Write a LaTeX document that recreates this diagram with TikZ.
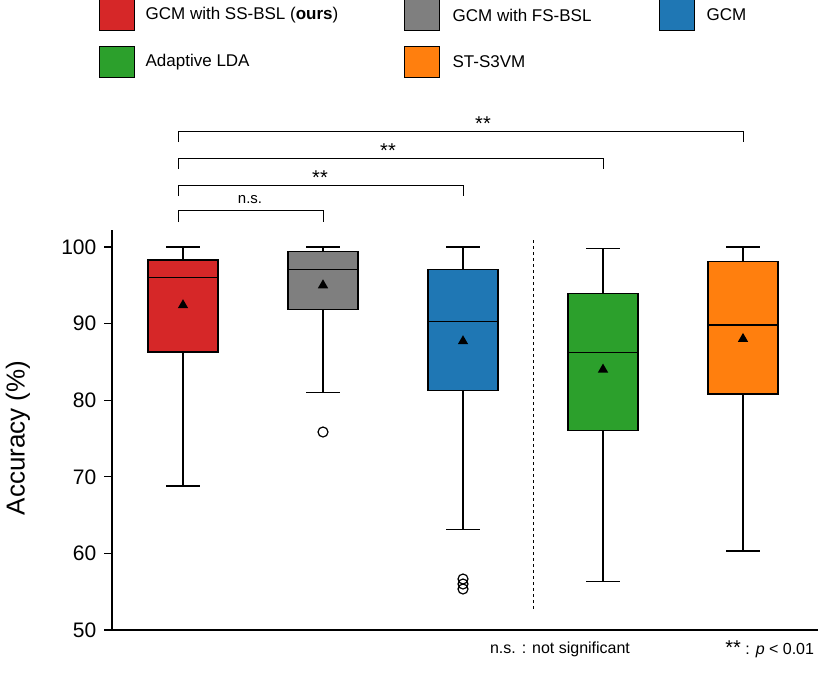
\documentclass[tikz,border=0pt]{standalone}
\usepackage{fontspec}
\setmainfont{Liberation Sans}
\usetikzlibrary{shapes.geometric}
\definecolor{cred}{HTML}{D62728}
\definecolor{cgray}{HTML}{7F7F7F}
\definecolor{cblue}{HTML}{1F77B4}
\definecolor{cgreen}{HTML}{2CA02C}
\definecolor{corange}{HTML}{FF7F0E}
\begin{document}
\begin{tikzpicture}[x=1pt,y=-1pt,line width=1.3pt,
  leg/.style={draw=black,line width=0.8pt,minimum width=35pt,minimum height=31pt,inner sep=0pt},
  legtxt/.style={anchor=west,font=\fontsize{17}{20}\selectfont,inner sep=0pt},
  tick/.style={anchor=east,font=\fontsize{21}{24}\selectfont,inner sep=0pt},
  mean/.style={fill=black,draw=none,isosceles triangle,shape border rotate=90,isosceles triangle apex angle=60,minimum size=9pt,inner sep=0pt},
  outl/.style={circle,draw=black,line width=1.2pt,minimum size=10pt,inner sep=0pt},
  brk/.style={line width=1pt}]
\useasboundingbox (0,0) rectangle (830,686);
% legend
\node[leg,fill=cred] (l1) at (117,15) {};
\node[legtxt] (t1) at (145,15) {GCM with SS-BSL (\textbf{ours})};
\node[leg,fill=cgray] (l2) at (422,15) {};
\node[legtxt] (t2) at (452,15) {GCM with FS-BSL};
\node[leg,fill=cblue] (l3) at (677,15) {};
\node[legtxt] (t3) at (706,15) {GCM};
\node[leg,fill=cgreen] (l4) at (117,62) {};
\node[legtxt] (t4) at (145,62) {Adaptive LDA};
\node[leg,fill=corange] (l5) at (422,62) {};
\node[legtxt] (t5) at (452,62) {ST-S3VM};
% axes
\draw (112,230) -- (112,630) -- (818,630);
\foreach \v in {50,60,...,100}{
  \pgfmathsetmacro{\yy}{630-(\v-50)*7.66}
  \draw (104,\yy) -- (112,\yy);
  \node[tick] at (97,\yy) {\v};
}
\node[rotate=90,font=\fontsize{26}{30}\selectfont] (yl) at (18,438) {Accuracy (\%)};
\newcommand{\bx}[8]{%
  \pgfmathsetmacro{\ya}{630-(#3-50)*7.66}%
  \pgfmathsetmacro{\yb}{630-(#4-50)*7.66}%
  \pgfmathsetmacro{\ym}{630-(#5-50)*7.66}%
  \pgfmathsetmacro{\yl}{630-(#6-50)*7.66}%
  \pgfmathsetmacro{\yh}{630-(#7-50)*7.66}%
  \pgfmathsetmacro{\ymn}{630-(#8-50)*7.66}%
  \draw (#1,\ya) -- (#1,\yl); \draw (#1-17,\yl) -- (#1+17,\yl);
  \draw (#1,\yb) -- (#1,\yh); \draw (#1-17,\yh) -- (#1+17,\yh);
  \draw[fill=#2] (#1-35,\ya) rectangle (#1+35,\yb);
  \draw (#1-35,\ym) -- (#1+35,\ym);
  \node[mean] at (#1,\ymn) {};
}
\bx{183}{cred}{86.3}{98.3}{96}{68.8}{100}{92.4}
\bx{323}{cgray}{91.8}{99.4}{97.1}{81}{100}{95}
\bx{463}{cblue}{81.3}{97.1}{90.3}{63.1}{100}{87.7}
\bx{603}{cgreen}{76}{93.9}{86.2}{56.3}{99.8}{84}
\bx{743}{corange}{80.8}{98.1}{89.8}{60.3}{100}{88}
\node[outl] (o1) at (323,432) {};
\node[outl] (o2) at (463,579) {};
\node[outl] (o3) at (463,584) {};
\node[outl] (o4) at (463,589) {};
\draw[dashed,line width=1pt] (533,240) -- (533,610);
% brackets
\draw[brk] (178,222) -- (178,210) -- (323,210) -- (323,222);
\node[font=\fontsize{15}{18}\selectfont] (b1) at (250,200) {n.s.};
\draw[brk] (178,196) -- (178,185) -- (463,185) -- (463,196);
\node[font=\fontsize{20}{22}\selectfont] (b2) at (320,178) {**};
\draw[brk] (178,169) -- (178,158) -- (603,158) -- (603,169);
\node[font=\fontsize{20}{22}\selectfont] (b3) at (388,151) {**};
\draw[brk] (178,142) -- (178,131) -- (743,131) -- (743,142);
\node[font=\fontsize{20}{22}\selectfont] (b4) at (483,124) {**};
% notes
\node[font=\fontsize{16}{19}\selectfont] (n1) at (560,649) {n.s. : not significant};
\node[anchor=east,font=\fontsize{16}{19}\selectfont] (n2) at (818,649) {{\fontsize{20}{20}\selectfont **} : \textit{p} < 0.01};
\end{tikzpicture}
\end{document}
